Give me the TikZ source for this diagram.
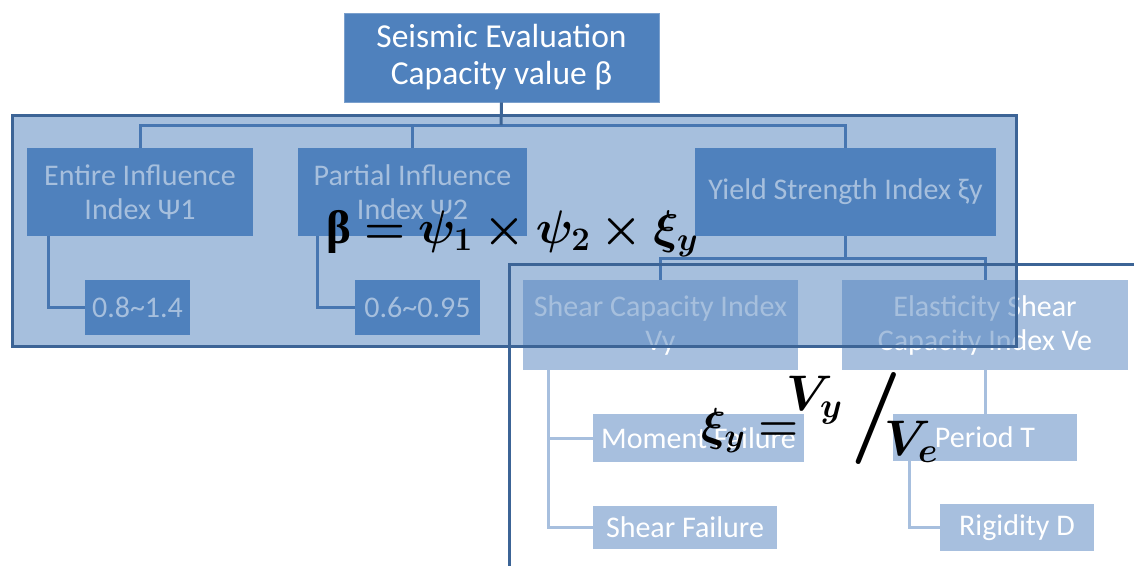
\documentclass[tikz,border=0pt]{standalone}
\usepackage{fix-cm}
\usepackage{amsmath,bm}
\usepackage{fontspec}
\setmainfont{Carlito}
\newfontfamily\grkbold{Liberation Serif}
\definecolor{accent}{HTML}{4F81BD}
\definecolor{pale}{HTML}{A7BFDE}
\definecolor{edge}{HTML}{3C6496}
\definecolor{wire}{HTML}{3F6CA6}
\tikzset{
  box/.style={fill=accent, text=white, inner sep=0pt, align=center, font=\fontsize{30}{34}\selectfont},
  pbox/.style={fill=pale, text=white, inner sep=0pt, align=center, font=\fontsize{30}{34}\selectfont},
  wireone/.style={draw=wire, line width=3pt},
  wiretwo/.style={draw=pale, line width=3pt},
  frame/.style={draw=edge, inner sep=0pt, anchor=north west},
  formula/.style={inner sep=0pt, text=black},
}
\begin{document}
\begin{tikzpicture}[x=1pt,y=-1pt]
\useasboundingbox (0,0) rectangle (1134,565);
\clip (0,0) rectangle (1134,565);
\fill[white] (0,0) rectangle (1134,565);

% ---- second-level tree (lighter boxes)
\node[pbox, minimum width=275, minimum height=90] (sc) at (660.5,325) {Shear Capacity Index\\Vy};
\node[pbox, minimum width=286, minimum height=90] (es) at (985,325) {Elasticity Shear\\Capacity Index Ve};
\node[pbox, minimum width=211, minimum height=48] (mf) at (698.5,438) {Moment Failure};
\node[pbox, minimum width=184, minimum height=43] (sf) at (685,527.5) {Shear Failure};
\node[pbox, minimum width=184, minimum height=47] (pt) at (985,437.5) {Period T};
\node[pbox, minimum width=154, minimum height=47] (rd) at (1017,527.5) {Rigidity D};
\draw[wiretwo] ([xshift=26pt]sc.south west) |- (mf.west);
\draw[wiretwo] ([xshift=26pt]sc.south west) |- (sf.west);
\draw[wiretwo] (es.south) -- (pt.north);
\draw[wiretwo] ([xshift=17pt]pt.south west) |- (rd.west);

% ---- first-level tree
\node[box, minimum width=226, minimum height=88] (ei) at (140,192) {Entire Influence\\Index Ψ1};
\node[box, minimum width=229, minimum height=88] (pi) at (412.5,192) {Partial Influence\\Index Ψ2};
\node[box, minimum width=301, minimum height=88] (ys) at (845.5,192) {Yield Strength Index ξy};
\node[box, minimum width=105, minimum height=55] (ra) at (137.5,307.5) {0.8\char"007E 1.4};
\node[box, minimum width=125, minimum height=55] (rb) at (417.5,307.5) {0.6\char"007E 0.95};
\coordinate (bus) at (501,125);
\coordinate (bustwo) at (845.5,258);
\draw[wireone] (ei.north) -- (ei.north |- bus) -- (ys.north |- bus) -- (ys.north);
\draw[wireone] (pi.north) -- (pi.north |- bus);
\draw[wireone] ([xshift=22pt]ei.south west) |- (ra.west);
\draw[wireone] ([xshift=20pt]pi.south west) |- (rb.west);
\draw[wireone] (ys.south) -- (bustwo);
\draw[wireone] (sc.north) -- (sc.north |- bustwo) -- (es.north |- bustwo) -- (es.north);

% ---- translucent group panel
\node[frame, line width=3pt, fill=accent, fill opacity=0.5, minimum width=1004, minimum height=231] (pone) at (11,114) {};
% ---- second panel outline
\node[frame, line width=2.5pt, minimum width=700, minimum height=360] (ptwo) at (508,263) {};

% ---- top box
\node[box, draw=accent!75!white, line width=0.8pt, minimum width=315, minimum height=89,
      font=\fontsize{33.5}{37}\selectfont] (top) at (501.5,57.5) {Seismic Evaluation\\Capacity value β};
\draw[draw=edge, line width=3pt] (top.south) -- (bus);

% ---- formulas
\node[formula, anchor=base west, font=\fontsize{47}{47}\selectfont] (fone) at (326,243)
  {$\text{\grkbold\bfseries β}\bm{{}=\psi_1\times\psi_2\times\xi_y}$};
\node[formula, anchor=base west, font=\fontsize{46}{46}\selectfont] (ftwoa) at (701,440) {$\bm{\xi_y={}}$};
\node[formula, anchor=base west, font=\fontsize{50}{50}\selectfont] (ftwob) at (786,410) {$\bm{V_y}$};
\node[formula, font=\fontsize{92}{92}\selectfont] (slash) at (876,418) {$\bm{/}$};
\node[formula, anchor=base west, font=\fontsize{50}{50}\selectfont] (ftwoc) at (884,455) {$\bm{V_e}$};
\end{tikzpicture}
\end{document}
